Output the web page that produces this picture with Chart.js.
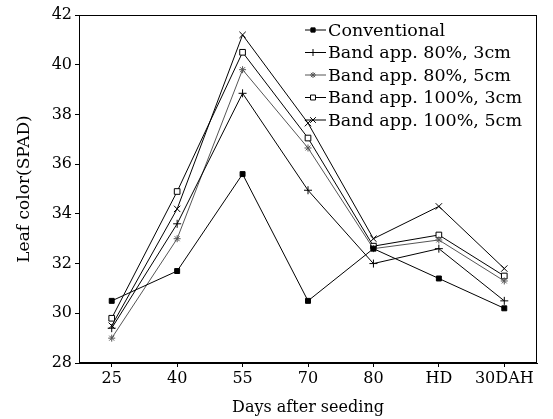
<!DOCTYPE html>
<html>
<head>
<meta charset="utf-8">
<script src="https://cdn.jsdelivr.net/npm/chart.js@4"></script>
<style>
  html, body { margin: 0; padding: 0; background: #fff; }
  #wrap { width: 553px; height: 419px; }
</style>
</head>
<body>
<div id="wrap"><canvas id="grafico"></canvas></div>
<script>
// datos
const dias = ['25', '40', '55', '70', '80', 'HD', '30DAH'];
const convencional = [30.5, 31.7, 35.6, 30.5, 32.6, 31.4, 30.2];
const banda80_3cm = [29.4, 33.6, 38.85, 34.95, 32.0, 32.6, 30.5];
const banda80_5cm = [29.0, 33.0, 39.8, 36.65, 32.6, 32.95, 31.3];
const banda100_3cm = [29.8, 34.9, 40.5, 37.05, 32.7, 33.15, 31.5];
const banda100_5cm = [29.5, 34.2, 41.2, 37.65, 33.0, 34.3, 31.8];
const yTicks = [28, 30, 32, 34, 36, 38, 40, 42];

const fuente = '"DejaVu Serif", "Liberation Serif", serif';

const series = [
    { label: 'Conventional', data: convencional, style: 'rect', color: '#000', fill: '#000', radius: 3.5 },
    { label: 'Band app. 80%, 3cm', data: banda80_3cm, style: 'cross', color: '#000', fill: '#000', radius: 4 },
    { label: 'Band app. 80%, 5cm', data: banda80_5cm, style: 'star', color: '#555', fill: '#555', radius: 3.5 },
    { label: 'Band app. 100%, 3cm', data: banda100_3cm, style: 'rect', color: '#000', fill: '#fff', radius: 4 },
    { label: 'Band app. 100%, 5cm', data: banda100_5cm, style: 'crossRot', color: '#000', fill: '#000', radius: 4.5 }
];

// marco y leyenda propia
const marco = {
    id: 'marco',
    afterDraw(chart) {
        const c = chart.ctx;
        const a = chart.chartArea;
        c.save();
        c.strokeStyle = '#000';
        c.lineWidth = 1;
        c.strokeRect(a.left + 0.5, a.top + 0.5, a.right - a.left - 1, a.bottom - a.top - 1);

        c.font = '17.5px ' + fuente;
        c.textBaseline = 'middle';
        const x0 = 305, y0 = 30, paso = 22.5;
        chart.data.datasets.forEach(function (ds, i) {
            const y = y0 + i * paso;
            c.strokeStyle = ds.borderColor;
            c.lineWidth = 1;
            c.beginPath();
            c.moveTo(x0, y);
            c.lineTo(x0 + 21, y);
            c.stroke();
            c.fillStyle = ds.pointBackgroundColor;
            c.strokeStyle = ds.borderColor;
            Chart.helpers.drawPoint(c, {
                pointStyle: ds.pointStyle, radius: ds.pointRadius - 0.5, rotation: 0, borderWidth: 1
            }, x0 + 8, y);
            c.fillStyle = '#000';
            c.fillText(ds.label, x0 + 23, y + 1);
        });
        c.restore();
    }
};

const ctx = document.getElementById('grafico');
new Chart(ctx, {
    type: 'line',
    data: {
        labels: dias,
        datasets: series.map(function (s) {
            return {
                label: s.label,
                data: s.data,
                borderColor: s.color,
                borderWidth: 1,
                pointStyle: s.style,
                pointRadius: s.radius,
                pointBorderColor: s.color,
                pointBackgroundColor: s.fill,
                pointBorderWidth: 1,
                tension: 0
            };
        })
    },
    options: {
        responsive: true,
        maintainAspectRatio: false,
        animation: false,
        layout: { padding: { top: 15, right: 16, left: 14, bottom: 0 } },
        plugins: {
            legend: { display: false },
            tooltip: { enabled: false }
        },
        scales: {
            x: {
                offset: true,
                grid: { drawOnChartArea: false, drawTicks: true, tickLength: 4, color: '#000', offset: false },
                border: { display: true, color: '#000' },
                ticks: { color: '#000', font: { family: fuente, size: 16 }, padding: 2, maxRotation: 0 },
                title: { display: true, text: 'Days after seeding', color: '#000', font: { family: fuente, size: 16 }, padding: { top: 0, bottom: 2 } },
                afterFit(scale) { scale.height = 56; }
            },
            y: {
                min: 28,
                max: 42,
                afterBuildTicks(scale) { scale.ticks = yTicks.map(function (v) { return { value: v }; }); },
                grid: { drawOnChartArea: false, drawTicks: true, tickLength: 4, color: '#000' },
                border: { display: true, color: '#000' },
                ticks: { color: '#000', font: { family: fuente, size: 16 }, padding: 3 },
                title: { display: true, text: 'Leaf color(SPAD)', color: '#000', font: { family: fuente, size: 17 }, padding: { top: 0, bottom: 2 } },
                afterFit(scale) { scale.width = 65; }
            }
        }
    },
    plugins: [marco]
});
</script>
</body>
</html>
